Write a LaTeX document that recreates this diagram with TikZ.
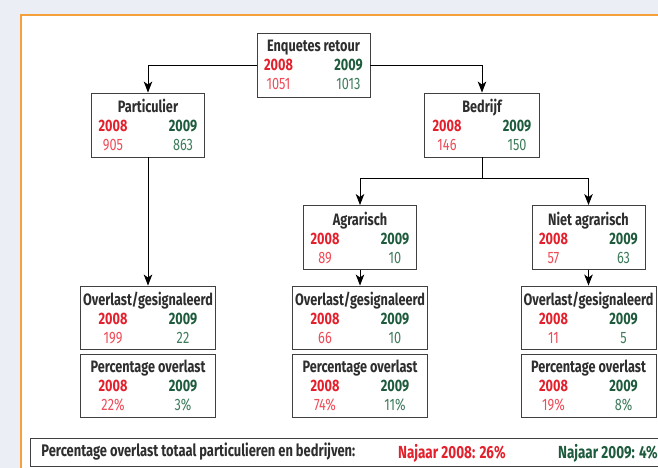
\documentclass[tikz,border=0pt]{standalone}
\usepackage{fontspec}
\setmainfont{Fira Sans}[FakeStretch=0.77]
\usetikzlibrary{arrows.meta}
\definecolor{red08}{HTML}{E3202B}
\definecolor{redval}{HTML}{EE4C58}
\definecolor{green09}{HTML}{1E5B3C}
\definecolor{greenval}{HTML}{3E7C5C}
\definecolor{titlegray}{HTML}{2E2E2E}
\definecolor{framebg}{HTML}{ECEEF5}
\definecolor{frameline}{HTML}{F5A03A}
\newcommand{\tightsp}{\spaceskip=3pt plus 1pt\relax}
\newcommand{\years}{\makebox[34pt]{\color{red08}\bfseries 2008}\hspace{36pt}\makebox[34pt]{\color{green09}\bfseries 2009}}
\newcommand{\vals}[2]{\makebox[34pt]{\color{redval}#1}\hspace{36pt}\makebox[34pt]{\color{greenval}#2}}
\newcommand{\boxtitle}[1]{{\bfseries\color{titlegray}\tightsp#1}}
\tikzset{
  countbox/.style={draw=black!75, line width=0.9pt, fill=white, align=center,
    minimum width=113pt, minimum height=64pt, inner sep=2pt,
    font=\fontsize{16.5}{19}\selectfont},
  widebox/.style={countbox, minimum width=135pt, minimum height=63pt},
  totalbar/.style={draw=black!75, line width=0.9pt, fill=white, anchor=west,
    minimum width=660pt, minimum height=28pt},
  flow/.style={-{Stealth[length=11pt,width=8.5pt,inset=3pt]}, line width=0.9pt, draw=black},
  split/.style={line width=0.9pt, draw=black}
}

\begin{document}
\begin{tikzpicture}[x=1pt,y=-1pt]
  \useasboundingbox (0,0) rectangle (658,468);
  \clip (0,0) rectangle (658,468);
  % panel
  \fill[framebg] (0,0) rectangle (658,468);
  \fill[white] (21,15) rectangle (670,480);
  \draw[frameline, line width=1.5pt] (21,480) -- (21,15) -- (670,15);

  \node[countbox] (retour) at (313.5,65) {\boxtitle{Enquetes retour}\\ \years\\ \vals{1051}{1013}};
  \node[countbox] (part) at (148,125) {\boxtitle{Particulier}\\ \years\\ \vals{905}{863}};
  \node[countbox, minimum width=115pt] (bedrijf) at (482,125) {\boxtitle{Bedrijf}\\ \years\\ \vals{146}{150}};
  \node[countbox] (agrar) at (360,237.5) {\boxtitle{Agrarisch}\\ \years\\ \vals{89}{10}};
  \node[countbox] (nietagrar) at (588.5,237.5) {\boxtitle{Niet agrarisch}\\ \years\\ \vals{57}{63}};

  \node[widebox] (overlastp) at (148,317.5) {\boxtitle{Overlast/gesignaleerd}\\ \years\\ \vals{199}{22}};
  \node[widebox] (percp) at (148,385.5) {\boxtitle{Percentage overlast}\\ \years\\ \vals{22\%}{3\%}};
  \node[widebox] (overlasta) at (360,317.5) {\boxtitle{Overlast/gesignaleerd}\\ \years\\ \vals{66}{10}};
  \node[widebox] (perca) at (360,385.5) {\boxtitle{Percentage overlast}\\ \years\\ \vals{74\%}{11\%}};
  \node[widebox] (overlastn) at (588.5,317.5) {\boxtitle{Overlast/gesignaleerd}\\ \years\\ \vals{11}{5}};
  \node[widebox] (percn) at (588.5,385.5) {\boxtitle{Percentage overlast}\\ \years\\ \vals{19\%}{8\%}};

  \draw[flow] (retour.west) -| (part.north);
  \draw[flow] (retour.east) -| (bedrijf.north);
  \draw[flow] (part.south) -- (overlastp.north);
  \draw[split] (bedrijf.south) -- ++(0,21) coordinate (fork);
  \draw[flow] (fork) -| (agrar.north);
  \draw[flow] (fork) -| (nietagrar.north);
  \draw[flow] (agrar.south) -- (overlasta.north);
  \draw[flow] (nietagrar.south) -- (overlastn.north);

  % totaal
  \node[totalbar, font=\fontsize{16.8}{18}\selectfont, text width=640pt, align=left, inner xsep=11pt]
    (totaal) at (30,452) {\boxtitle{Percentage overlast totaal particulieren en bedrijven:}};
  \node[anchor=base west, font=\fontsize{17.5}{18}\selectfont\bfseries, text=red08, inner sep=0pt]
    (najaar08) at (398,458) {Najaar 2008: 26\%};
  \node[anchor=base west, font=\fontsize{17.5}{18}\selectfont\bfseries, text=green09, inner sep=0pt]
    (najaar09) at (558,458) {Najaar 2009: 4\%};
\end{tikzpicture}
\end{document}
